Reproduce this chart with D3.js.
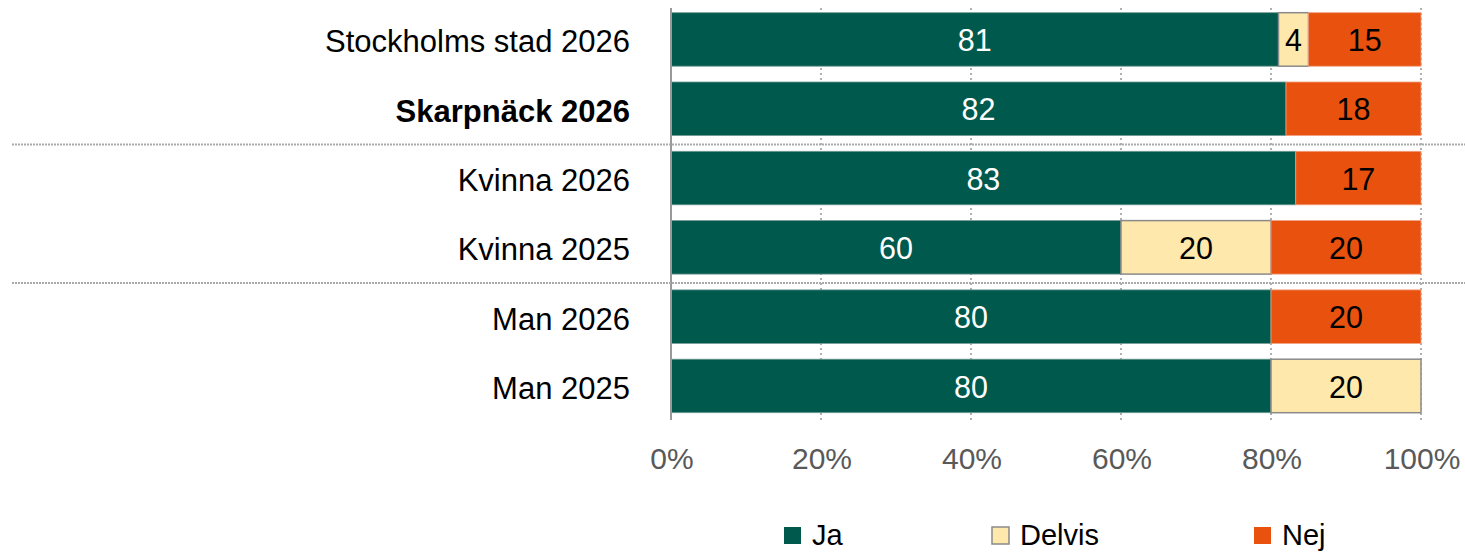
<!DOCTYPE html>
<html><head><meta charset="utf-8">
<script src="https://cdn.jsdelivr.net/npm/d3@7"></script>
<style>body{margin:0;background:#fff}svg{display:block;font-family:"Liberation Sans",Arial,sans-serif}</style>
</head><body><svg id="c" width="1465" height="552"></svg>
<script>
const categories = ["Stockholms stad 2026","Skarpnäck 2026","Kvinna 2026","Kvinna 2025","Man 2026","Man 2025"];
const boldCategories = ["Skarpnäck 2026"];
const seriesNames = ["Ja","Delvis","Nej"];
const ja     = [81, 82, 83.3, 60, 80, 80];
const delvis = [4, 0, 0, 20, 0, 20];
const nej    = [15, 18, 16.7, 20, 20, 0];
const tickValues = [0,20,40,60,80,100];
const separatorsAfter = ["Skarpnäck 2026","Kvinna 2025"];

const colors = {Ja:"#00594D", Delvis:"#FFE8AC", Nej:"#E8510E"};
const svg = d3.select("#c");
const x = d3.scaleLinear().domain([0,100]).range([671,1421]);
const y = d3.scaleBand().domain(categories).range([4.8,420.6]).paddingInner(0.228).paddingOuter(0.114);

const rows = categories.map((c,i)=>({cat:c, vals:[ja[i],delvis[i],nej[i]]}));
const stacked = d3.stack().keys([0,1,2]).value((d,k)=>d.vals[k])(rows);

// gridlines
svg.append("g").selectAll("line").data(tickValues.filter(t=>t>0)).join("line")
  .attr("x1",d=>x(d)).attr("x2",d=>x(d)).attr("y1",8).attr("y2",420)
  .attr("stroke","#b0b0b0").attr("stroke-width",2).attr("stroke-dasharray","2,3");

// bars
stacked.forEach((layer,k)=>{
  const name = seriesNames[k];
  const g = svg.append("g");
  layer.forEach((d,i)=>{
    const v = d[1]-d[0];
    if (v<=0) return;
    const cat = categories[i];
    g.append("rect").attr("x",x(d[0])).attr("y",y(cat)).attr("width",x(d[1])-x(d[0])).attr("height",y.bandwidth())
      .attr("fill",colors[name])
      .attr("stroke", name==="Delvis" ? "#8a8a8a" : (name==="Ja" ? "#6f9a93" : "#f0a080"))
      .attr("stroke-width", name==="Delvis" ? 1.5 : 0.8);
    g.append("text").attr("x",(x(d[0])+x(d[1]))/2).attr("y",y(cat)+y.bandwidth()/2)
      .attr("dy","0.38em").attr("text-anchor","middle").attr("font-size",30.5)
      .attr("fill", name==="Ja" ? "#fff" : "#000").text(d3.format(".0f")(v));
  });
});

// axis line
svg.append("line").attr("x1",671).attr("x2",671).attr("y1",8).attr("y2",420)
  .attr("stroke","#999").attr("stroke-width",2);

// separators
separatorsAfter.forEach(c=>{
  const yy = y(c)+y.bandwidth()+ (y.step()-y.bandwidth())/2 + 1;
  svg.append("line").attr("x1",12).attr("x2",1465).attr("y1",yy).attr("y2",yy)
    .attr("stroke","#aaa").attr("stroke-width",2).attr("stroke-dasharray","2,1");
});

// category labels
svg.append("g").selectAll("text").data(categories).join("text")
  .attr("x",630).attr("y",d=>y(d)+y.bandwidth()/2).attr("dy","0.42em")
  .attr("text-anchor","end").attr("font-size",31).attr("fill","#000")
  .attr("font-weight",d=>boldCategories.includes(d)?"bold":"normal").text(d=>d);

// x tick labels
svg.append("g").selectAll("text").data(tickValues).join("text")
  .attr("x",d=>x(d)+1).attr("y",469).attr("text-anchor","middle")
  .attr("font-size",30).attr("fill","#595959").text(d=>d+"%");

// legend
const legendX = [784, 992, 1254];
seriesNames.forEach((n,i)=>{
  svg.append("rect").attr("x",legendX[i]).attr("y",527).attr("width",17).attr("height",17)
    .attr("fill",colors[n]).attr("stroke", n==="Delvis" ? "#8a8a8a" : "none").attr("stroke-width",1.5);
  svg.append("text").attr("x",legendX[i]+28).attr("y",545)
    .attr("font-size",29).attr("fill","#000").text(n);
});
</script></body></html>
